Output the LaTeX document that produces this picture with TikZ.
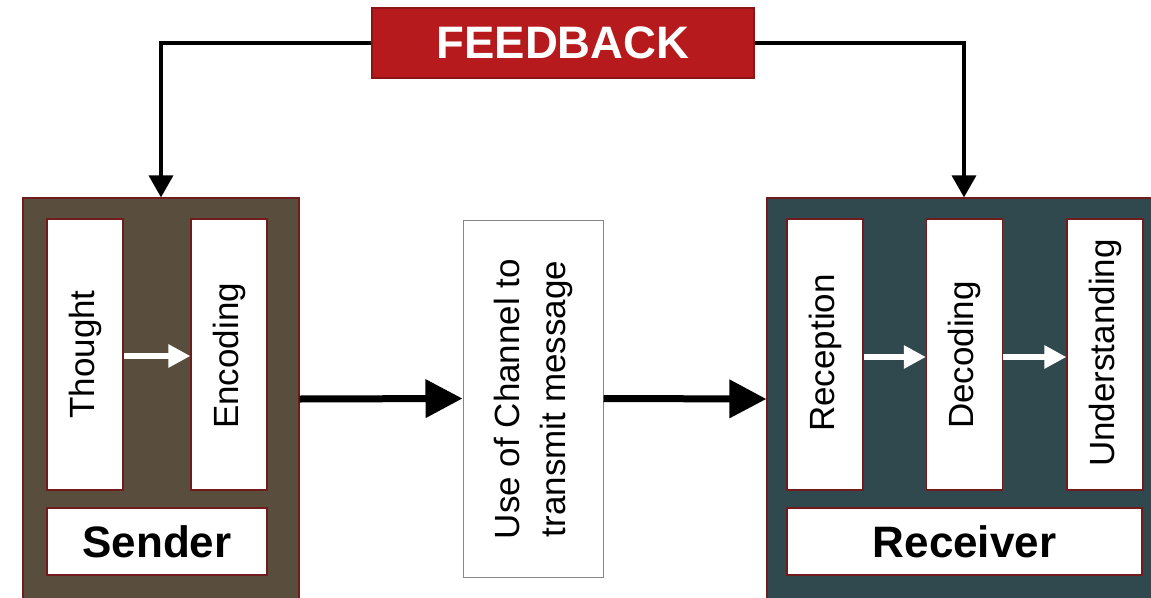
\documentclass[tikz,border=0pt]{standalone}
\usepackage{fontspec}
\setmainfont{Liberation Sans}
\usetikzlibrary{arrows.meta}
\definecolor{senderfill}{RGB}{89,78,61}
\definecolor{receiverfill}{RGB}{47,73,79}
\definecolor{boxborder}{RGB}{112,28,28}
\definecolor{fbfill}{RGB}{182,26,29}
\definecolor{fbborder}{RGB}{140,20,20}
\definecolor{chborder}{RGB}{135,135,135}
\tikzset{
  outerbox/.style={draw=boxborder, line width=1.2pt, inner sep=0pt},
  innerbox/.style={draw=boxborder, fill=white, line width=1.2pt, inner sep=0pt,
    minimum width=76pt, minimum height=271pt},
  lblbox/.style={draw=boxborder, fill=white, line width=1.2pt, inner sep=0pt,
    minimum height=67pt},
  vtext/.style={rotate=90, inner sep=0pt, font=\fontsize{35}{46}\selectfont, align=center},
  lbltext/.style={inner sep=0pt, font=\fontsize{44}{50}\selectfont\bfseries},
  bigarrow/.style={line width=7pt, -{Triangle[length=37pt,width=37pt]}},
  whitearrow/.style={white, line width=6pt, -{Triangle[length=22pt,width=22pt]}},
  fbarrow/.style={line width=3.5pt, -{Triangle[length=22pt,width=24pt]}},
}
\begin{document}
\begin{tikzpicture}[x=1pt,y=-1pt]
\useasboundingbox (0,0) rectangle (1151,597);
\fill[white] (0,0) rectangle (1151,597);
% Feedback
\node[draw=fbborder, fill=fbfill, line width=1.2pt, minimum width=382pt, minimum height=70pt,
  text=white, font=\fontsize{45.5}{50}\selectfont\bfseries, inner sep=0pt] (fb) at (563,43) {FEEDBACK};
% Sender
\node[outerbox, fill=senderfill, minimum width=276pt, minimum height=402pt] (sender) at (161,399) {};
\node[innerbox] (thought) at (85,354.5) {};
\node[innerbox] (encoding) at (229,354.5) {};
\node[vtext] (thoughttxt) at (85,354.5) {Thought};
\node[vtext] (encodingtxt) at (229,356) {Encoding};
\node[lblbox, minimum width=220pt] (senderlbl) at (157,541.5) {};
\node[lbltext] (sendertxt) at (157,541.5) {Sender};
% Channel
\node[draw=chborder, fill=white, line width=1pt, minimum width=140pt, minimum height=357pt, inner sep=0pt] (channel) at (533,398.5) {};
\node[vtext] (channeltxt) at (533,399) {Use of Channel to\\transmit message};
% Receiver
\node[outerbox, fill=receiverfill, minimum width=386pt, minimum height=402pt] (receiver) at (960,399) {};
\node[innerbox] (reception) at (825,354.5) {};
\node[innerbox] (decoding) at (964.5,354.5) {};
\node[innerbox] (understanding) at (1105,354.5) {};
\node[vtext] (receptiontxt) at (825,353) {Reception};
\node[vtext] (decodingtxt) at (964.5,355) {Decoding};
\node[vtext] (understandingtxt) at (1105,353) {Understanding};
\node[lblbox, minimum width=355pt] (receiverlbl) at (964.5,541.5) {};
\node[lbltext] (receivertxt) at (964.5,541.5) {Receiver};
% White arrows
\draw[whitearrow] ([yshift=-1.5pt]thought.east) -- ([yshift=-1.5pt]encoding.west);
\draw[whitearrow] ([yshift=-2.5pt]reception.east) -- ([yshift=-2.5pt]decoding.west);
\draw[whitearrow] ([yshift=-2.5pt]decoding.east) -- ([yshift=-2.5pt]understanding.west);
% Main arrows
\draw[bigarrow] (sender.east) -- (channel.west);
\draw[bigarrow] (channel.east) -- (receiver.west);
% Feedback arrows
\coordinate (rtop) at ([xshift=4pt]receiver.north);
\draw[fbarrow] (fb.west) -| (sender.north);
\draw[fbarrow] (fb.east) -| (rtop);
\end{tikzpicture}
\end{document}
